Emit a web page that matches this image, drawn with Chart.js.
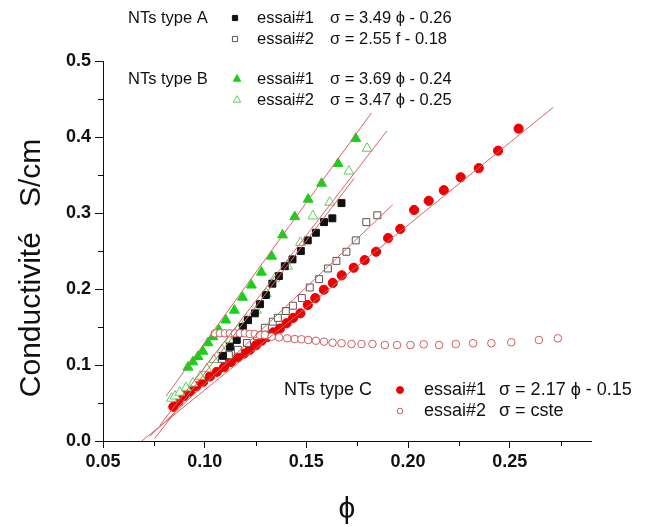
<!DOCTYPE html>
<html><head><meta charset="utf-8">
<script src="https://cdn.jsdelivr.net/npm/chart.js@4.4.0/dist/chart.umd.min.js"></script>
<style>html,body{margin:0;padding:0;background:#fff;}#wrap{width:649px;height:527px;}</style>
</head><body><div id="wrap"><canvas id="c" width="649" height="527"></canvas></div>
<script>
// ---------- data ----------
const xTicks = [0.05, 0.10, 0.15, 0.20, 0.25];
const xMinorTicks = [0.075, 0.125, 0.175, 0.225, 0.275];
const yTicks = [0.0, 0.1, 0.2, 0.3, 0.4, 0.5];
const yMinorTicks = [0.05, 0.15, 0.25, 0.35, 0.45];

// NTs type A, essai#1 (filled squares)
const a1Phi   = [0.1090,0.1124,0.1158,0.1188,0.1213,0.1247,0.1272,0.1301,0.1333,0.1365,0.1394,0.1432,0.1473,0.1507,0.1547,0.1587,0.1628,0.1673];
const a1Sigma = [0.112,0.124,0.133,0.150,0.159,0.168,0.180,0.192,0.207,0.217,0.230,0.239,0.250,0.264,0.274,0.288,0.293,0.313];
// NTs type A, essai#2 (open squares)
const a2Phi   = [0.1085,0.1119,0.1163,0.1208,0.1257,0.1296,0.1335,0.1360,0.1399,0.1434,0.1478,0.1517,0.1563,0.1606,0.1648,0.1697,0.1743,0.1795,0.1849];
const a2Sigma = [0.108,0.113,0.120,0.129,0.138,0.149,0.157,0.162,0.171,0.178,0.188,0.202,0.213,0.227,0.237,0.249,0.264,0.288,0.297];
// NTs type B, essai#1 (filled triangles)
const b1Phi   = [0.0918,0.0942,0.0967,0.0991,0.1016,0.1041,0.1070,0.1104,0.1146,0.1186,0.1230,0.1279,0.1329,0.1383,0.1443,0.1509,0.1575,0.1656,0.1743];
const b1Sigma = [0.097,0.104,0.111,0.118,0.129,0.137,0.146,0.159,0.172,0.189,0.205,0.222,0.243,0.271,0.295,0.318,0.339,0.365,0.398];
// NTs type B, essai#2 (open triangles)
const b2Phi   = [0.0837,0.0854,0.0878,0.0908,0.0942,0.0977,0.1011,0.1045,0.1085,0.1124,0.1163,0.1206,0.1255,0.1303,0.1345,0.1407,0.1471,0.1532,0.1615,0.1709,0.1799];
const b2Sigma = [0.056,0.059,0.064,0.070,0.076,0.085,0.095,0.107,0.120,0.133,0.146,0.159,0.172,0.194,0.214,0.230,0.261,0.296,0.314,0.355,0.385];
// NTs type C, essai#1 (filled circles)
const c1Phi   = [0.0846,0.0871,0.0898,0.0928,0.0960,0.0993,0.1026,0.1060,0.1095,0.1129,0.1163,0.1194,0.1222,0.1252,0.1280,0.1309,0.1338,0.1370,0.1403,0.1435,0.1471,0.1507,0.1544,0.1586,0.1630,0.1674,0.1733,0.1787,0.1843,0.1902,0.1962,0.2030,0.2102,0.2176,0.2259,0.2348,0.2443,0.2544];
const c1Sigma = [0.045,0.052,0.059,0.065,0.072,0.078,0.085,0.091,0.097,0.104,0.110,0.115,0.120,0.126,0.132,0.137,0.143,0.148,0.155,0.162,0.168,0.179,0.188,0.199,0.208,0.218,0.228,0.238,0.249,0.267,0.279,0.304,0.316,0.330,0.347,0.359,0.382,0.411];
// NTs type C, essai#2 (open circles)
const c2Phi   = [0.1050,0.1075,0.1100,0.1124,0.1149,0.1173,0.1198,0.1222,0.1247,0.1271,0.1296,0.1329,0.1366,0.1406,0.1443,0.1476,0.1509,0.1547,0.1587,0.1629,0.1673,0.1722,0.1771,0.1825,0.1886,0.1946,0.2012,0.2077,0.2153,0.2235,0.2320,0.2410,0.2508,0.2644,0.2737];
const c2Sigma = [0.1417,0.1417,0.1417,0.1417,0.1417,0.1417,0.1417,0.1408,0.1408,0.1395,0.1395,0.1372,0.1364,0.1351,0.1342,0.1338,0.1329,0.1320,0.1307,0.1293,0.1286,0.1276,0.1276,0.1276,0.1263,0.1263,0.1263,0.1272,0.1263,0.1276,0.1286,0.1286,0.1299,0.1329,0.1351];

// fitted straight lines (end points)
const fitA1Phi = [0.0755, 0.1735], fitA1Sigma = [0.0035, 0.3455];
const fitA2Phi = [0.0730, 0.1925], fitA2Sigma = [0.0062, 0.3109];
const fitB1Phi = [0.0810, 0.1820], fitB1Sigma = [0.0589, 0.4316];
const fitB2Phi = [0.0780, 0.1897], fitB2Sigma = [0.0207, 0.4083];
const fitC1Phi = [0.0691, 0.2715], fitC1Sigma = [0.0000, 0.4392];

// texts
const groupLabels = ["NTs type A", "NTs type B", "NTs type C"];
const trialLabels = ["essai#1", "essai#2"];
const equations = ["\u03c3 = 3.49 \u03d5 - 0.26", "\u03c3 = 2.55 f - 0.18", "\u03c3 = 3.69 \u03d5 - 0.24", "\u03c3 = 3.47 \u03d5 - 0.25", "\u03c3 = 2.17 \u03d5 - 0.15", "\u03c3 = cste"];
const yTitle = "Conductivit\u00e9   S/cm";
const xTitle = "\u03d5";

// ---------- styles ----------
const GREEN = 'rgb(20,210,20)', GREEN_OPEN = 'rgb(95,205,95)', BLACK = '#111', GREY = '#555';
const RED = 'rgb(236,0,0)', RED_OPEN = 'rgb(205,95,95)', LINE = 'rgb(215,100,100)';
const FONT = '"Liberation Sans", Arial, "DejaVu Sans", sans-serif';

function pts(xs, ys){ return xs.map((x,i)=>({x:x, y:ys[i]})); }
function fit(xs, ys){ return {type:'line', data:pts(xs,ys), borderColor:LINE, borderWidth:1, pointRadius:0, fill:false, showLine:true}; }

const markers = [
  {style:'rect', r:4.9, fill:BLACK, stroke:BLACK},          // A1
  {style:'rect', r:4.9, fill:'#fff', stroke:GREY},          // A2
  {style:'triangle', r:5.7, fill:GREEN, stroke:GREEN},      // B1
  {style:'triangle', r:5.7, fill:'#fff', stroke:GREEN_OPEN},// B2
  {style:'circle', r:4.6, fill:RED, stroke:RED},            // C1
  {style:'circle', r:3.8, fill:'#fff', stroke:RED_OPEN}     // C2
];
function sc(xs, ys, m){ return {type:'scatter', data:pts(xs,ys), pointStyle:m.style, pointRadius:m.r, pointHoverRadius:m.r, backgroundColor:m.fill, borderColor:m.stroke, borderWidth:1}; }

const datasets = [
  fit(fitA1Phi, fitA1Sigma), fit(fitA2Phi, fitA2Sigma), fit(fitB1Phi, fitB1Sigma), fit(fitB2Phi, fitB2Sigma), fit(fitC1Phi, fitC1Sigma),
  sc(c2Phi, c2Sigma, markers[5]),
  sc(a1Phi, a1Sigma, markers[0]),
  sc(a2Phi, a2Sigma, markers[1]),
  sc(b1Phi, b1Sigma, markers[2]),
  sc(b2Phi, b2Sigma, markers[3]),
  sc(c1Phi, c1Sigma, markers[4])
];

function drawMarker(ctx, m, x, y, scale){
  const r = m.r * (scale||1);
  ctx.save();
  ctx.fillStyle = m.fill; ctx.strokeStyle = m.stroke; ctx.lineWidth = 1;
  ctx.beginPath();
  if (m.style === 'rect'){ const s = r*Math.SQRT1_2; ctx.rect(x-s, y-s, 2*s, 2*s); }
  else if (m.style === 'triangle'){ ctx.moveTo(x, y-r); ctx.lineTo(x+r*0.866, y+r/2); ctx.lineTo(x-r*0.866, y+r/2); ctx.closePath(); }
  else { ctx.arc(x, y, r, 0, Math.PI*2); }
  ctx.fill(); ctx.stroke();
  ctx.restore();
}

const annotations = {
  id: 'annotations',
  afterDraw(chart){
    const ctx = chart.ctx;
    const xs = chart.scales.x, ys = chart.scales.y;
    ctx.save();
    // minor ticks
    ctx.strokeStyle = '#111'; ctx.lineWidth = 1;
    ctx.beginPath();
    xMinorTicks.forEach(v=>{ const p = Math.round(xs.getPixelForValue(v))+0.5; ctx.moveTo(p, ys.bottom); ctx.lineTo(p, ys.bottom+5); });
    yMinorTicks.forEach(v=>{ const p = Math.round(ys.getPixelForValue(v))+0.5; ctx.moveTo(xs.left-5, p); ctx.lineTo(xs.left, p); });
    ctx.stroke();
    // axis titles
    ctx.fillStyle = '#111';
    ctx.textAlign = 'center'; ctx.textBaseline = 'middle';
    ctx.font = '30px ' + FONT;
    ctx.fillText(xTitle, (xs.left+xs.right)/2, 510);
    ctx.save();
    ctx.translate(32, 268); ctx.rotate(-Math.PI/2);
    ctx.font = '30px ' + FONT;
    ctx.fillText(yTitle, 0, 0);
    ctx.restore();
    // legends
    ctx.textAlign = 'left'; ctx.textBaseline = 'middle';
    const rows = [
      {g:0, y:18,  mx:235, tx:257, ex:330, gx:128, m:0, t:0, e:0, f:16.5},
      {g:-1, y:39, mx:235, tx:257, ex:330, m:1, t:1, e:1, f:16.5},
      {g:1, y:79,  mx:237, tx:257, ex:330, gx:128, m:2, t:0, e:2, f:16.5},
      {g:-1, y:100, mx:237, tx:257, ex:330, m:3, t:1, e:3, f:16.5},
      {g:2, y:390, mx:400, tx:424, ex:499, gx:284, m:4, t:0, e:4, f:18},
      {g:-1, y:411, mx:400, tx:424, ex:499, m:5, t:1, e:5, f:18}
    ];
    rows.forEach(r=>{
      ctx.font = r.f + 'px ' + FONT;
      if (r.g >= 0) ctx.fillText(groupLabels[r.g], r.gx, r.y);
      drawMarker(ctx, markers[r.m], r.mx, r.y, 0.75);
      ctx.fillText(trialLabels[r.t], r.tx, r.y);
      ctx.fillText(equations[r.e], r.ex, r.y);
    });
    ctx.restore();
  }
};

new Chart(document.getElementById('c'), {
  data: {datasets: datasets},
  options: {
    responsive: false, animation: false, devicePixelRatio: 1,
    layout: {padding: {left: 0, top: 61, right: 58, bottom: 0}},
    plugins: {legend: {display: false}, tooltip: {enabled: false}},
    scales: {
      x: {
        type: 'linear', min: 0.05, max: 0.29,
        afterBuildTicks: s => { s.ticks = xTicks.map(v => ({value: v})); },
        afterFit: s => { s.height = 86; },
        ticks: {font: {family: FONT, size: 18, weight: 'bold'}, color: '#111', padding: 3, maxRotation: 0, autoSkip: false,
                callback: v => Number(v).toFixed(2)},
        grid: {display: true, drawOnChartArea: false, drawTicks: true, tickLength: 7, tickColor: '#111', color: '#111'},
        border: {display: true, color: '#111', width: 1}
      },
      y: {
        type: 'linear', min: 0, max: 0.5,
        afterBuildTicks: s => { s.ticks = yTicks.map(v => ({value: v})); },
        afterFit: s => { s.width = 103; },
        ticks: {font: {family: FONT, size: 18, weight: 'bold'}, color: '#111', padding: 4, autoSkip: false,
                callback: v => Number(v).toFixed(1)},
        grid: {display: true, drawOnChartArea: false, drawTicks: true, tickLength: 8, tickColor: '#111', color: '#111'},
        border: {display: true, color: '#111', width: 1}
      }
    }
  },
  plugins: [annotations]
});
</script></body></html>
